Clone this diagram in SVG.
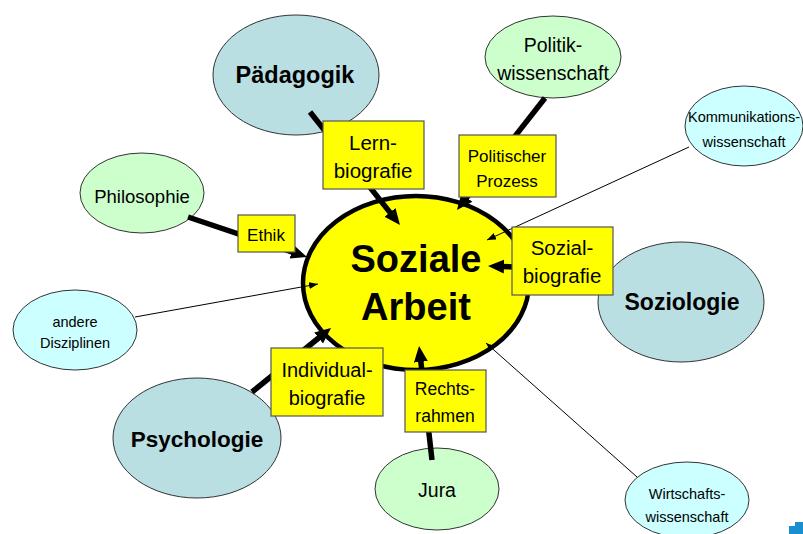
<svg xmlns="http://www.w3.org/2000/svg" width="803" height="534" viewBox="0 0 803 534">
<style>
text{font-family:"Liberation Sans",Arial,sans-serif;fill:#000;text-anchor:middle}
.blue{fill:#b9dfe3;stroke:#333;stroke-width:1}
.green{fill:#ccffcc;stroke:#333;stroke-width:1}
.cyan{fill:#ccffff;stroke:#333;stroke-width:1}
.box{fill:#ffff00;stroke:#555;stroke-width:1.2}
.thick{stroke:#000;stroke-width:5.5;fill:none;marker-end:url(#big)}
.thin{stroke:#000;stroke-width:1;fill:none;marker-end:url(#small)}
.b{font-weight:bold}
</style>
<defs>
<marker id="big" markerUnits="userSpaceOnUse" markerWidth="18" markerHeight="16" refX="4" refY="7" orient="auto">
<path d="M0,0 L16,7 L0,14 z" fill="#000"/>
</marker>
<marker id="small" markerUnits="userSpaceOnUse" markerWidth="10" markerHeight="8" refX="9" refY="3.5" orient="auto">
<path d="M0,0 L9,3.5 L0,7 z" fill="#000"/>
</marker>
</defs>
<rect width="803" height="534" fill="#fff"/>

<g id="soziale-arbeit">
<ellipse cx="416" cy="283" rx="113" ry="87" fill="#ffff00" stroke="#000" stroke-width="4.5"/>
<text x="416" y="272" class="b" font-size="38">Soziale</text>
<text x="416" y="320" class="b" font-size="38">Arbeit</text>
</g>

<g id="paedagogik">
<ellipse class="blue" cx="296" cy="75" rx="83" ry="60"/>
<text x="295" y="83" class="b" font-size="23.5">Pädagogik</text>
</g>
<g id="politikwissenschaft">
<ellipse class="green" cx="553" cy="57" rx="68" ry="41"/>
<text x="553" y="52" font-size="19.5">Politik-</text>
<text x="553" y="80" font-size="19.5">wissenschaft</text>
</g>
<g id="kommunikationswissenschaft">
<ellipse class="cyan" cx="744" cy="126" rx="59" ry="40"/>
<text x="744" y="122" font-size="14.5">Kommunikations-</text>
<text x="744" y="147" font-size="14.5">wissenschaft</text>
</g>
<g id="philosophie">
<ellipse class="green" cx="142" cy="193" rx="62" ry="40"/>
<text x="142" y="203" font-size="18.5">Philosophie</text>
</g>
<g id="andere-disziplinen">
<ellipse class="cyan" cx="75" cy="330" rx="62" ry="40"/>
<text x="75" y="327" font-size="14.5">andere</text>
<text x="75" y="348" font-size="14.5">Disziplinen</text>
</g>
<g id="psychologie">
<ellipse class="blue" cx="197" cy="438" rx="84" ry="60"/>
<text x="197" y="447" class="b" font-size="22.5">Psychologie</text>
</g>
<g id="jura">
<ellipse class="green" cx="437" cy="489" rx="62" ry="41"/>
<text x="437" y="497" font-size="19.5">Jura</text>
</g>
<g id="soziologie">
<ellipse class="blue" cx="681" cy="302" rx="83" ry="60"/>
<text x="682" y="310" class="b" font-size="23">Soziologie</text>
</g>
<g id="wirtschaftswissenschaft">
<ellipse class="cyan" cx="687" cy="500" rx="62" ry="38"/>
<text x="687" y="499" font-size="14.5">Wirtschafts-</text>
<text x="687" y="522" font-size="14.5">wissenschaft</text>
</g>

<g id="connectors">
<line class="thick" x1="310" y1="112" x2="392.5" y2="215.6"/>
<line class="thick" x1="545" y1="98" x2="464.4" y2="200.6"/>
<line class="thick" x1="188" y1="217" x2="295.6" y2="253.2"/>
<line class="thick" x1="252" y1="392" x2="321.7" y2="335.5"/>
<line class="thick" x1="432" y1="460" x2="420.4" y2="357.9"/>
<line class="thick" x1="600" y1="270" x2="500" y2="266.4"/>
<line class="thin" x1="689" y1="147" x2="487" y2="240"/>
<line class="thin" x1="135" y1="317" x2="318" y2="284"/>
<line class="thin" x1="637" y1="477" x2="486" y2="343"/>
</g>

<g id="lernbiografie">
<rect class="box" x="323" y="121" width="101" height="68"/>
<text x="373" y="150" font-size="20.5">Lern-</text>
<text x="373" y="178" font-size="20.5">biografie</text>
</g>
<g id="politischer-prozess">
<rect class="box" x="459" y="135" width="97" height="62"/>
<text x="507" y="162" font-size="17">Politischer</text>
<text x="507" y="187" font-size="17">Prozess</text>
</g>
<g id="ethik">
<rect class="box" x="238" y="215" width="57" height="37"/>
<text x="266" y="241" font-size="17">Ethik</text>
</g>
<g id="sozialbiografie">
<rect class="box" x="512" y="227" width="101" height="68"/>
<text x="562" y="255" font-size="20.5">Sozial-</text>
<text x="562" y="283" font-size="20.5">biografie</text>
</g>
<g id="individualbiografie">
<rect class="box" x="271" y="348" width="112" height="68"/>
<text x="327" y="377" font-size="20">Individual-</text>
<text x="327" y="405" font-size="20">biografie</text>
</g>
<g id="rechtsrahmen">
<rect class="box" x="405" y="370" width="81" height="62"/>
<text x="445" y="395" font-size="17.5">Rechts-</text>
<text x="445" y="422" font-size="17.5">rahmen</text>
</g>

<path d="M789,534 L789,526 L795,526 L795,522 L803,522 L803,534 z" fill="#1a8fd0"/>
</svg>
